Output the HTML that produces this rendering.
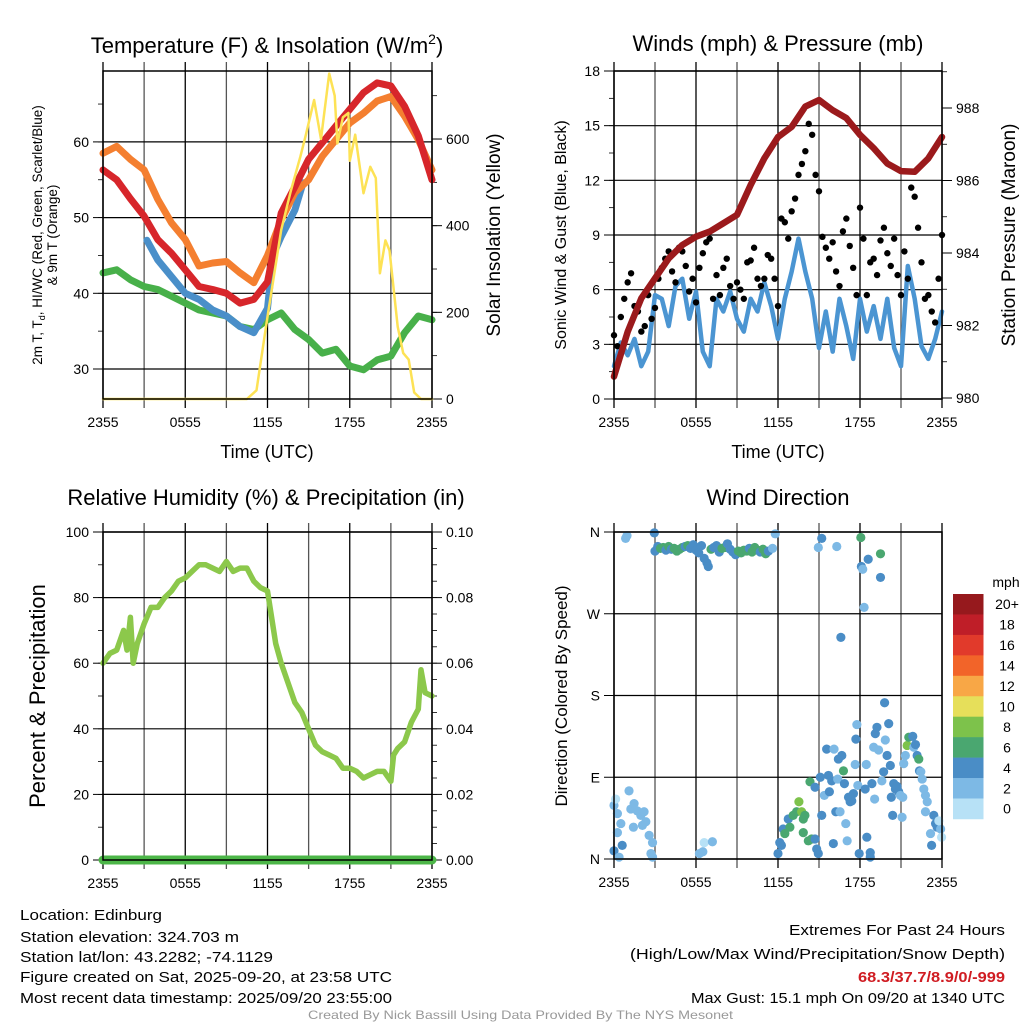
<!DOCTYPE html>
<html><head><meta charset="utf-8"><style>
html,body{margin:0;padding:0;background:#fff;}
svg{display:block;font-family:"Liberation Sans",sans-serif;}
</style></head><body>
<svg id="chart" width="1024" height="1024" viewBox="0 0 1024 1024" xmlns="http://www.w3.org/2000/svg">
<rect x="0" y="0" width="1024" height="1024" fill="#fff"/>
<g id="layer"></g>
<text x="267" y="53" font-size="22" text-anchor="middle">Temperature (F) &amp; Insolation (W/m<tspan font-size="14" dy="-9">2</tspan><tspan dy="9">)</tspan></text>
<text x="778" y="51" font-size="22" text-anchor="middle">Winds (mph) &amp; Pressure (mb)</text>
<text x="266" y="505" font-size="22" text-anchor="middle">Relative Humidity (%) &amp; Precipitation (in)</text>
<text x="778" y="505" font-size="22" text-anchor="middle">Wind Direction</text>
<text x="267" y="458" font-size="18" text-anchor="middle">Time (UTC)</text>
<text x="778" y="458" font-size="18" text-anchor="middle">Time (UTC)</text>
<text transform="translate(42,235) rotate(-90)" font-size="13.5" text-anchor="middle">2m T, T<tspan font-size="9" dy="3">d</tspan><tspan dy="-3">, HI/WC (Red, Green, Scarlet/Blue)</tspan></text>
<text transform="translate(57,235) rotate(-90)" font-size="13.5" text-anchor="middle">&amp; 9m T (Orange)</text>
<text transform="translate(500,235) rotate(-90)" font-size="19" text-anchor="middle">Solar Insolation (Yellow)</text>
<text transform="translate(566,235) rotate(-90)" font-size="16" text-anchor="middle">Sonic Wind &amp; Gust (Blue, Black)</text>
<text transform="translate(1015,235) rotate(-90)" font-size="19" text-anchor="middle">Station Pressure (Maroon)</text>
<text transform="translate(45,696) rotate(-90)" font-size="22" text-anchor="middle">Percent &amp; Precipitation</text>
<text transform="translate(567,696) rotate(-90)" font-size="17" text-anchor="middle">Direction (Colored By Speed)</text>
<text x="20" y="920" font-size="15" textLength="142" lengthAdjust="spacingAndGlyphs">Location: Edinburg</text>
<text x="20" y="942" font-size="15" textLength="219" lengthAdjust="spacingAndGlyphs">Station elevation: 324.703 m</text>
<text x="20" y="962" font-size="15" textLength="253" lengthAdjust="spacingAndGlyphs">Station lat/lon: 43.2282; -74.1129</text>
<text x="20" y="982" font-size="15" textLength="372" lengthAdjust="spacingAndGlyphs">Figure created on Sat, 2025-09-20, at 23:58 UTC</text>
<text x="20" y="1003" font-size="15" textLength="372" lengthAdjust="spacingAndGlyphs">Most recent data timestamp: 2025/09/20 23:55:00</text>
<text x="789" y="935" font-size="15" textLength="216" lengthAdjust="spacingAndGlyphs">Extremes For Past 24 Hours</text>
<text x="630" y="959" font-size="15" textLength="375" lengthAdjust="spacingAndGlyphs">(High/Low/Max Wind/Precipitation/Snow Depth)</text>
<text x="858" y="982" font-size="15" font-weight="bold" fill="#d01c22" textLength="147" lengthAdjust="spacingAndGlyphs">68.3/37.7/8.9/0/-999</text>
<text x="691" y="1003" font-size="15" textLength="314" lengthAdjust="spacingAndGlyphs">Max Gust: 15.1 mph On 09/20 at 1340 UTC</text>
<text x="308" y="1019" font-size="12" fill="#999" textLength="425" lengthAdjust="spacingAndGlyphs">Created By Nick Bassill Using Data Provided By The NYS Mesonet</text>
</svg>
<script>
// ---- data ----
const hours = [0,1,2,3,4,5,6,7,8,9,10,11,12,13,14,15,16,17,18,19,20,21,22,23,24];
const xTickLabels = ["2355","0555","1155","1755","2355"];
const temp9m = [58.5,59.4,57.7,56.3,52.4,49.3,47.1,43.6,44,44.2,42.7,41.4,45,49.7,53.3,55,58.1,60.3,62.5,63.8,65.4,66,63.4,60.3,56.3];
const temp2m = [56.3,55,52.5,50.2,47.1,45.3,43.1,40.9,40.5,40,38.7,39.2,41.5,50.6,54.1,57.7,59.9,62.1,64.3,66.5,67.8,67.4,64.7,60.8,55];
const dewpoint = [42.7,43.1,41.8,40.9,40.5,39.6,38.7,37.8,37.4,37,35.6,35.2,36.5,37.4,35.2,33.9,32.1,32.6,30.4,29.9,31.2,31.7,34.8,37,36.5];
const windChillHours = [3.2,4,5,6,7,8,9,10,11,12,12.4,13,14,14.6];
const windChill = [47,44.4,42.2,40,39.2,37.8,37,35.6,34.8,38,45,47.5,51,54.6];
const insolHours = [0,10.5,11.2,12,13,13.7,14.4,14.8,15.4,15.9,16.5,16.9,17.1,17.5,17.9,18.0,18.4,19.0,19.5,19.9,20.2,20.6,20.9,21.5,21.9,22.3,22.7,23.2,24];
const insolation = [0,0,20,190,390,480,560,610,690,600,751,700,590,650,660,550,610,475,536,510,290,366,343,167,106,91,15,0,0];
const tempTicks = [30,40,50,60];
const insolTicks = [0,200,400,600];

const pressure = [980.59,981.83,982.75,983.3,983.85,984.22,984.45,984.59,984.82,985.05,985.88,986.61,987.2,987.48,988.04,988.22,987.94,987.72,987.26,986.89,986.47,986.26,986.24,986.61,987.2];
const windSpeed = [1.8,3.1,2.4,3.3,1.8,2.6,5.7,5.5,4,6.2,6.6,4.4,5.9,2.6,1.8,5.5,4.8,5.9,4.4,3.7,5.5,4.8,6.4,5.1,3.3,5.5,7,8.8,7,5.5,2.8,4.8,2.6,5.5,4,2.2,5.5,3.7,5.1,3.3,5.5,2.8,1.8,7.3,5.5,2.9,2.2,3.3,4.8];
const windGust = [3.5,2.9,4.5,5.5, 6.4,6.9,5.1,4.8, 3.7,4,5.7,4.4, 5,6.6,7.2,7.7, 8.1,7,6.4,8.3, 8.1,7.3,5.9,6.6, 5.3,7.2,8,8.6, 8.8,5.5,6.8,5.7, 7.2,7.7,6.2,5.5, 6.4,6,5.5,7.5, 7.6,8.3,6.6,6.2, 6.6,7.9,7.7,6.6, 5.1,9.9,9.7,8.8, 10.3,11,12.3,12.9, 13.6,15.1,14.5,12.3, 11.4,8.9,8.3,7.7, 8.6,7,6.2,9.2, 9.9,8.4,7.2,5.7, 10.5,8.8,5.7,7.5, 7.7,6.8,8.7,9.4, 8,7.3,8.8,6.8, 5.7,8.1,6.6,11.6, 11.1,9.4,7.5,5.5, 5.7,4.8,4.2,6.6, 9];
const windTicks = [0,3,6,9,12,15,18];
const pressureTicks = [980,982,984,986,988];

const rhHours = [0,0.5,1,1.5,1.75,2,2.2,2.5,3,3.5,4,4.5,5,5.5,6,6.5,7,7.5,8,8.5,9,9.5,10,10.5,11,11.5,12,12.6,13,14,14.5,15,15.5,16,16.5,17,17.5,18,18.5,19,19.5,20,20.5,21,21.2,21.5,22,22.5,23,23.2,23.5,24];
const rh = [60,63,64,70,64,74,60,66,72,77,77,80,82,85,86,88,90,90,89,88,91,88,89,89,85,83,82,66,60,48,45,40,35,33,32,31,28,28,27,25,26,27,27,24,32,34,36,42,46,58,51,50];
const precipHours = [0,24];
const precip = [0,0];
const rhTicks = [0,20,40,60,80,100];
const precipTicks = [0,0.02,0.04,0.06,0.08,0.10];

const dirHours = [0.85,0.95,2.95,3.0,3.2,3.4,3.6,3.8,4.0,4.2,4.4,4.6,4.8,5.0,5.2,5.4,5.6,5.8,6.0,6.2,6.4,6.6,6.8,6.9,7.1,7.3,7.5,7.7,7.9,8.1,8.3,8.5,8.7,8.9,9.1,9.3,9.5,9.7,9.9,10.1,10.3,10.5,10.7,10.9,11.1,11.3,11.6,11.8,
 15.2,14.95,16.3,18.06,18.6,18.1,18.2,19.5,19.5,18.3,16.6,
 0,0.12,0.25,0.5,0.25,0,0.37,0.6,1.1,1.23,1.47,1.7,1.96,2.2,2.33,2.08,1.42,2.57,2.82,2.7,2.82,
 6.6,7.2,6.25,6.5,
 12.0,12.13,12.25,12.38,12.5,12.75,12.87,13.11,13.36,13.53,13.73,13.85,13.97,13.85,14.22,14.46,14.71,14.83,14.95,14.34,14.71,15.1,15.2,15.39,15.56,15.69,15.76,15.93,16.05,16.1,16.23,16.37,16.42,16.54,16.67,16.79,16.86,16.96,17.06,17.16,17.28,17.4,17.52,17.65,17.7,17.77,17.84,17.94,18.38,18.5,18.46,18.75,18.75,18.87,19.0,19.07,19.12,19.24,19.36,19.6,19.73,19.8,19.85,19.98,20.1,20.22,20.29,20.39,20.47,20.59,20.71,20.83,20.96,21.08,21.13,21.2,21.32,21.45,21.57,21.86,21.94,22.06,22.18,22.3,22.35,22.45,22.55,22.67,22.79,22.92,22.79,23.16,23.24,23.4,23.53,23.65,23.9,23.97,23.77];
const dirDegrees = [353,356,359,339,344,342,343,340,344,341,342,339,341,343,344,345,342,346,340,337,345,331,326,322,341,343,345,338,342,343,347,341,338,335,339,337,340,339,342,338,343,340,338,341,336,339,342,358,
 353,343,344,354,330,322,319,336,310,277,244,
 59,66,50,39,29,9,2,15,75,55,61,53,48,52,41,37,35,26,18,6,2,
 18,19,6,8,
 6,18,15,33,28,44,35,48,52,63,52,44,48,29,20,22,22,11,6,85,79,90,48,70,121,92,74,86,17,121,52,88,110,52,114,97,83,39,20,68,63,64,72,104,132,148,81,6,77,24,104,7,2,83,123,66,138,145,120,86,96,172,131,114,149,103,68,48,83,77,80,74,70,46,68,105,114,125,134,135,123,126,114,110,97,96,88,77,70,63,52,28,15,48,39,35,33,24,42];
const dirSpeed = [3,3,5,5,5,7,7,5,7,5,7,7,7,7,5,7,5,5,5,5,5,5,5,5,7,5,5,5,7,7,5,5,5,5,7,7,7,7,5,7,7,7,5,7,7,5,3,3,
 5,3,3,7,5,5,3,7,5,3,5,
 3,1,3,3,3,5,3,5,3,3,3,3,3,3,3,3,3,3,3,3,3,
 1,3,3,3,
 5,5,5,5,7,5,7,7,7,9,9,7,7,7,7,7,5,5,5,7,5,5,5,3,5,5,5,5,5,3,5,3,5,3,5,7,5,3,3,5,5,5,5,3,5,3,3,5,5,5,3,5,5,5,3,3,5,5,3,3,5,5,3,5,5,5,5,5,5,5,5,5,3,3,3,3,3,9,7,5,3,5,5,7,5,3,3,3,3,3,3,3,5,5,5,5,3];
const dirTickLabels = ["N","E","S","W","N"];
const speedBins = [0,2,4,6,8,10,12,14,16,18,20];
const speedLabels = ["0","2","4","6","8","10","12","14","16","18","20+"];
const speedColors = ["#b7e1f6","#7db9e5","#4a8dc6","#4aa770","#7dc24b","#e6df5a","#f8a746","#f26429","#e13a2b","#bf1e28","#96191d"];

// ---- helpers ----
const NS = "http://www.w3.org/2000/svg";
const layer = document.getElementById("layer");
function mk(tag, attrs, parent) {
  const e = document.createElementNS(NS, tag);
  for (const k in attrs) e.setAttribute(k, attrs[k]);
  (parent || layer).appendChild(e);
  return e;
}
function panel(L, T, R, B) {
  return { L, T, R, B, x: t => L + (t / 24) * (R - L) };
}
const P1 = panel(103, 71, 432, 399);
const P2 = panel(614, 71, 942, 399);
const P3 = panel(103, 532, 432, 860);
const P4 = panel(614, 532, 942, 859);
const yT = v => 369 - (v - 30) * 7.57;
const yIns = v => 399 - v * 0.4333;
const yW = v => P2.B - v * (P2.B - P2.T) / 18;
const yP = v => 398 - (v - 980) * 36.25;
const yRH = v => P3.B - v * (P3.B - P3.T) / 100;
const yPr = v => P3.B - v * (P3.B - P3.T) / 0.1;
const yDir = v => P4.B - v * (P4.B - P4.T) / 360;

function frame(P, name) {
  for (let h = 0; h <= 24; h += 3) {
    const x = P.x(h);
    const g = mk("line", { x1: x, y1: P.T - 9, x2: x, y2: P.B + 9, stroke: (h % 6 === 0) ? "#000" : "#555", "stroke-width": 1.3 });
    
    
  }
  for (let i = 0; i < xTickLabels.length; i++) {
    const t = mk("text", { x: P.x(i * 6), y: P.B + 28, "font-size": 14, "text-anchor": "middle" });
    t.textContent = xTickLabels[i];
    
    
  }
}
function hgrid(P, ys, name) {
  ys.forEach(y => {
    const g = mk("line", { x1: P.L, y1: y, x2: P.R, y2: y, stroke: "#000", "stroke-width": 1.2 });
    
    
  });
}
function yAxis(P, ticks, fy, labels, side, minorStep, minorLo, minorHi, fmt, name) {
  const x0 = side === "L" ? P.L : P.R;
  const dir = side === "L" ? -1 : 1;
  ticks.forEach((v, i) => {
    const y = fy(v);
    mk("line", { x1: x0, y1: y, x2: x0 + dir * 10, y2: y, stroke: "#000", "stroke-width": 1 });
    const t = mk("text", { x: x0 + dir * 14, y: y + 5, "font-size": 14, "text-anchor": side === "L" ? "end" : "start" });
    t.textContent = labels ? labels[i] : fmt(v);
    
    
  });
  if (minorStep) {
    for (let v = minorLo; v <= minorHi + 1e-9; v += minorStep) {
      const y = fy(v);
      if (y < P.T - 0.5 || y > P.B + 0.5) continue;
      mk("line", { x1: x0, y1: y, x2: x0 + dir * 5, y2: y, stroke: "#000", "stroke-width": 0.8 });
    }
  }
}
function border(P, name) {
  const r = mk("rect", { x: P.L, y: P.T, width: P.R - P.L, height: P.B - P.T, fill: "none", stroke: "#000", "stroke-width": 1.5 });
  
  
}
function line(P, xs, ys, fy, color, w, name) {
  const d = xs.map((t, i) => (i ? "L" : "M") + P.x(t).toFixed(1) + "," + fy(ys[i]).toFixed(1)).join("");
  const p = mk("path", { d, fill: "none", stroke: color, "stroke-width": w, "stroke-linejoin": "round", "stroke-linecap": "round" });
  
  
  return p;
}

// ---- Panel 1: temperature ----
frame(P1, "temperature");
hgrid(P1, tempTicks.map(yT), "temperature");
yAxis(P1, tempTicks, yT, null, "L", 5, 30, 65, v => String(v), "temperature-y");
yAxis(P1, insolTicks, yIns, null, "R", 100, 0, 700, v => String(v), "insolation-y");
line(P1, hours, dewpoint, yT, "#48b04a", 7, "dewpoint-line");
line(P1, windChillHours, windChill, yT, "#4a8fc9", 7, "wind-chill-line");
line(P1, hours, temp9m, yT, "#f47f30", 7, "temperature-9m-line");
line(P1, hours, temp2m, yT, "#d7262b", 7, "temperature-2m-line");
line(P1, insolHours, insolation, yIns, "#fde255", 2.5, "insolation-line");
border(P1, "temperature");

// ---- Panel 2: winds ----
frame(P2, "winds");
hgrid(P2, windTicks.map(yW), "winds");
yAxis(P2, windTicks, yW, null, "L", 1.5, 0, 18, v => String(v), "wind-y");
yAxis(P2, pressureTicks, yP, null, "R", 1, 980, 989, v => String(v), "pressure-y");
line(P2, windSpeed.map((v, i) => i * 0.5), windSpeed, yW, "#4b95d2", 4.5, "sonic-wind-line");
windGust.forEach((v, i) => {
  const c = mk("circle", { cx: P2.x(i * 0.25), cy: yW(v), r: 3.2, fill: "#000" });
  
  
});
line(P2, hours, pressure, yP, "#9b1a1c", 6.5, "pressure-line");
border(P2, "winds");

// ---- Panel 3: RH ----
frame(P3, "humidity");
hgrid(P3, rhTicks.map(yRH), "humidity");
yAxis(P3, rhTicks, yRH, null, "L", 10, 0, 100, v => String(v), "humidity-y");
yAxis(P3, precipTicks, yPr, null, "R", 0.005, 0, 0.1, v => v.toFixed(2), "precip-y");
line(P3, rhHours, rh, yRH, "#8cc84b", 5.5, "relative-humidity-line");
line(P3, precipHours, precip, yPr, "#4cb648", 9, "precipitation-line");
border(P3, "humidity");

// ---- Panel 4: wind direction ----
frame(P4, "direction");
hgrid(P4, [0, 90, 180, 270, 360].map(yDir), "direction");
yAxis(P4, [0, 90, 180, 270, 360], yDir, dirTickLabels, "L", 0, 0, 0, null, "direction-y");
function speedColor(s) {
  let idx = 0;
  for (let i = 0; i < speedBins.length; i++) if (s >= speedBins[i]) idx = i;
  return speedColors[idx];
}
dirHours.forEach((t, i) => {
  const c = mk("circle", { cx: P4.x(t), cy: yDir(dirDegrees[i]), r: 4.6, fill: speedColor(dirSpeed[i]) });
  
  
});
border(P4, "direction");

// colorbar
const cbTop = 594, cbH = 20.45;
const mph = mk("text", { x: 1006, y: 587, "font-size": 14, "text-anchor": "middle" });
mph.textContent = "mph";


for (let i = 0; i < speedColors.length; i++) {
  const k = speedColors.length - 1 - i;
  const y = cbTop + i * cbH;
  const r = mk("rect", { x: 953, y: y, width: 30.5, height: cbH + 0.3, fill: speedColors[k] });
  
  
  const t = mk("text", { x: 1007, y: y + cbH / 2 + 5, "font-size": 14, "text-anchor": "middle" });
  t.textContent = speedLabels[k];
  
  
}
</script>
</body></html>
